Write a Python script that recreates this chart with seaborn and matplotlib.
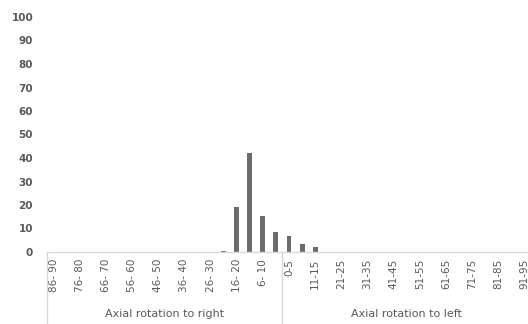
import numpy as np
import pandas as pd
import matplotlib
matplotlib.use("Agg")
import matplotlib.pyplot as plt
import seaborn as sns

# categories (right rotation listed from 86-90 down to 1-5, then left from 0-5 up)
right_cats = ["86- 90", "81- 85", "76- 80", "71- 75", "66- 70", "61- 65", "56- 60", "51- 55",
              "46- 50", "41- 45", "36- 40", "31- 35", "26- 30", "21- 25", "16- 20", "11- 15",
              "6- 10", "1- 5"]
right_vals = [0, 0, 0, 0, 0, 0, 0, 0, 0, 0, 0, 0, 0, 0.5, 19, 42, 15.5, 8.3]

left_cats = ["0-5", "6-10", "11-15", "16-20", "21-25", "26-30", "31-35", "36-40", "41-45",
             "46-50", "51-55", "56-60", "61-65", "66-70", "71-75", "76-80", "81-85",
             "86-90", "91-95"]
left_vals = [7, 3.5, 2, 0, 0, 0, 0, 0, 0, 0, 0, 0, 0, 0, 0, 0, 0, 0, 0]

group_names = ["Axial rotation to right", "Axial rotation to left"]
y_ticks = [0, 10, 20, 30, 40, 50, 60, 70, 80, 90, 100]

# =============================

df = pd.DataFrame({
    "cat": right_cats + left_cats,
    "val": right_vals + left_vals,
})
order = list(df["cat"])
n_right = len(right_cats)

sns.set_style("white")
plt.rcParams["font.family"] = ["DejaVu Sans"]

fig = plt.figure(figsize=(5.28, 3.24), dpi=100)
W, H = 528, 324
ax = fig.add_axes([47 / W, 72 / H, (531 - 47) / W, (252 - 17) / H])

sns.barplot(data=df, x="cat", y="val", order=order, color="#6b6b6b",
            width=0.38, saturation=1, linewidth=0, ax=ax)

ax.set_xlim(-0.5, len(order) - 0.5)
ax.set_ylim(0, 100)
ax.set_yticks(y_ticks)
ax.set_yticklabels([str(t) for t in y_ticks], fontsize=7.5, fontweight="bold", color="#595959")
ax.tick_params(axis="y", length=0, pad=10)

# Excel skips every second label
labels = [c if i % 2 == 0 else "" for i, c in enumerate(order)]
ax.set_xticks(range(len(order)))
ax.set_xticklabels(labels, rotation=90, fontsize=7.5, color="#595959", va="top")
ax.tick_params(axis="x", length=0, pad=5)
ax.set_xlabel("")
ax.set_ylabel("")

for s in ["top", "right", "left"]:
    ax.spines[s].set_visible(False)
ax.spines["bottom"].set_color("#d9d9d9")
ax.spines["bottom"].set_linewidth(1)

# group separators and group labels
trans = ax.get_xaxis_transform()
bottom = -72 / 235
for xpos in [-0.5, n_right - 0.5]:
    ax.plot([xpos, xpos], [0, bottom], color="#d9d9d9", lw=1, transform=trans, clip_on=False)

ax.text((n_right - 1) / 2, -62 / 235, group_names[0], transform=trans, ha="center",
        va="center", fontsize=8, color="#595959")
ax.text(n_right + (len(left_cats) - 1) / 2, -62 / 235, group_names[1], transform=trans,
        ha="center", va="center", fontsize=8, color="#595959")

plt.savefig("out.png", dpi=100)
plt.close()
